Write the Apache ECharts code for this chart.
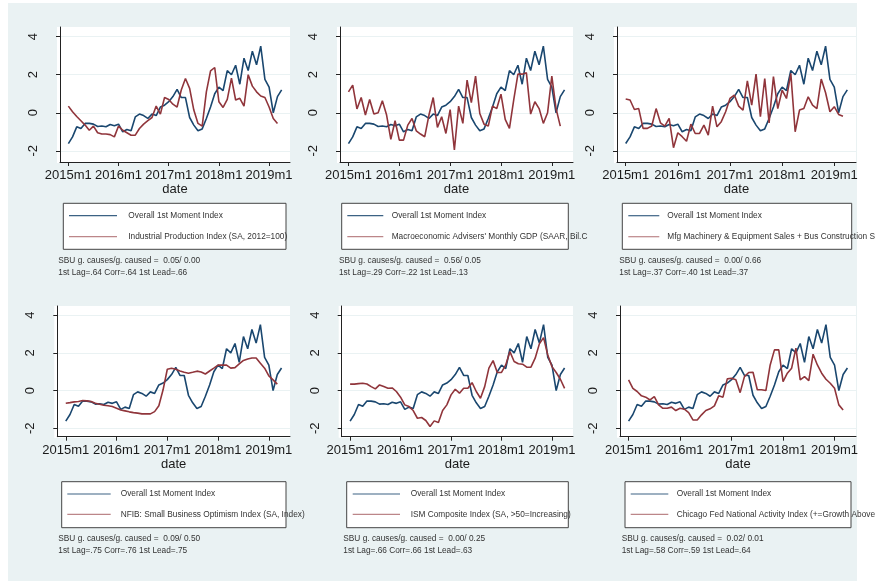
<!DOCTYPE html>
<html>
<head>
<meta charset="utf-8">
<script src="https://cdn.jsdelivr.net/npm/echarts@6/dist/echarts.min.js"></script>
<style>
  html, body { margin: 0; padding: 0; background: #ffffff; }
  #chart { width: 875px; height: 581px; }
</style>
</head>
<body>
<div id="chart"></div>
<script>
// Monthly observations, month 0 = 2015m1
const tickMonths = [0, 12, 24, 36, 48];
const tickLabels = ['2015m1', '2016m1', '2017m1', '2018m1', '2019m1'];
const yTicks = [-2, 0, 2, 4];

// Overall 1st Moment Index, 2015m1 - 2019m4
const overall = [
  -1.62, -1.27, -0.74, -0.83, -0.56, -0.56, -0.60, -0.72, -0.70, -0.74, -0.62, -0.68,
  -0.60, -1.00, -0.88, -0.95, -0.22, -0.07, -0.15, -0.30, -0.07, -0.15, 0.30, 0.40,
  0.58, 0.85, 1.23, 0.80, 0.80, -0.25, -0.65, -0.95, -0.85, -0.30, 0.30, 1.00,
  1.35, 1.17, 2.22, 2.00, 2.50, 1.50, 2.87, 2.22, 3.24, 2.52, 3.50, 1.76,
  1.35, 0.00, 0.85, 1.20
];

// Industrial Production Index (SA, 2012=100), 2015m1 - 2019m3
const industrialProduction = [
  0.35, 0.05, -0.20, -0.42, -0.65, -0.92, -0.70, -1.05, -1.12, -1.12, -1.15, -1.27,
  -0.70, -0.92, -1.05, -1.18, -1.18, -0.83, -0.60, -0.42, -0.25, 0.35, -0.07, 0.80,
  0.70, 0.45, 0.30, 1.20, 1.80, 1.28, 0.14, -0.56, -0.70, 1.10, 2.20, 2.38,
  0.58, 0.28, 0.70, 1.82, 0.67, 0.76, 0.35, 2.00, 1.40, 1.10, 0.88, 0.80,
  0.30, -0.30, -0.56
];

// Macroeconomic Advisers' Monthly GDP, 2015m1 - 2019m3
const macroGdp = [
  1.10, 1.45, 0.20, 0.80, -0.12, 0.70, -0.07, 0.00, 0.63, -0.12, -1.40, -0.42,
  -1.44, -1.44, -0.65, -0.30, -0.95, -1.12, -1.26, -0.12, 0.80, -0.77, -0.21, -1.09,
  0.17, -1.96, 0.35, -0.56, 1.72, 0.53, 1.93, -0.04, -0.60, -0.70, 0.35, 0.22,
  0.98, -0.35, -0.82, 0.67, 2.03, 2.03, 2.10, -0.07, 0.58, 0.22, -0.56, 0.00,
  1.93, 0.22, -0.70
];

// Mfg Machinery & Equipment Sales + Bus Construction, 2015m1 - 2019m3
const mfgMachinery = [
  0.72, 0.67, 0.17, 0.22, -0.82, -0.82, -0.70, 0.22, -0.53, -0.70, -0.30, -1.84,
  -1.05, -1.26, -1.50, -0.60, -1.09, -1.09, -0.65, -1.18, 0.35, -0.74, -0.47, 0.05,
  0.75, 0.93, 0.35, 0.14, 1.68, 0.40, 2.03, -0.21, 1.80, -0.53, 1.90, 0.22,
  1.19, 0.75, 2.07, -1.00, 0.14, 0.22, 0.84, 0.40, 0.22, 1.77, 1.05, 0.05,
  0.32, -0.09, -0.18
];

// NFIB: Small Business Optimism Index, 2015m1 - 2019m3
const nfib = [
  -0.67, -0.64, -0.60, -0.58, -0.53, -0.55, -0.58, -0.67, -0.73, -0.78, -0.81, -0.85,
  -0.94, -1.03, -1.08, -1.13, -1.17, -1.20, -1.24, -1.24, -1.24, -1.12, -0.81, 0.04,
  1.13, 1.19, 1.13, 1.04, 0.97, 0.92, 0.97, 1.03, 0.99, 0.88, 1.04, 1.19,
  1.35, 1.36, 1.35, 1.19, 1.22, 1.42, 1.60, 1.68, 1.73, 1.73, 1.45, 1.19,
  0.78, 0.57, 0.34
];

// ISM Composite Index, 2015m1 - 2019m4
const ism = [
  0.34, 0.34, 0.37, 0.39, 0.35, 0.21, 0.09, 0.30, 0.21, 0.12, 0.14, -0.05,
  -0.35, -0.76, -0.85, -1.06, -1.47, -1.43, -1.59, -1.91, -1.61, -1.70, -1.06, -0.76,
  -0.23, 0.07, -0.14, 0.12, 0.12, 0.42, -0.05, -0.41, 0.21, 1.19, 1.59, 0.96,
  0.96, 1.36, 2.07, 1.54, 1.42, 1.40, 1.24, 1.24, 1.72, 2.48, 2.81, 1.89,
  1.27, 0.96, 0.60, 0.12
];

// Chicago Fed National Activity Index, 2015m1 - 2019m3
const chicagoFed = [
  0.57, 0.12, -0.05, -0.28, -0.35, -0.50, -0.32, -0.76, -0.94, -0.94, -0.88, -1.06,
  -0.94, -0.99, -1.17, -1.56, -1.56, -1.29, -1.06, -0.97, -0.81, -0.28, -0.35, 0.62,
  0.65, 0.57, -0.11, 0.74, 0.96, 0.97, 0.04, 0.04, 0.00, 1.36, 2.16, 2.16,
  0.48, 0.92, 1.19, 2.25, 0.57, 0.74, 0.53, 1.93, 1.36, 0.92, 0.60, 0.39,
  0.12, -0.76, -1.03
];

const overallName = 'Overall 1st Moment Index';
const indicatorNames = [
  'Industrial Production Index (SA, 2012=100)',
  "Macroeconomic Advisers' Monthly GDP (SAAR, Bil.C",
  'Mfg Machinery & Equipment Sales + Bus Construction S',
  'NFIB: Small Business Optimism Index (SA, Index)',
  'ISM Composite Index (SA, >50=Increasing)',
  'Chicago Fed National Activity Index (+=Growth Above'
];
const grangerTexts = [
  'SBU g. causes/g. caused =  0.05/ 0.00',
  'SBU g. causes/g. caused =  0.56/ 0.05',
  'SBU g. causes/g. caused =  0.00/ 0.66',
  'SBU g. causes/g. caused =  0.09/ 0.50',
  'SBU g. causes/g. caused =  0.00/ 0.25',
  'SBU g. causes/g. caused =  0.02/ 0.01'
];
const corrTexts = [
  '1st Lag=.64 Corr=.64 1st Lead=.66',
  '1st Lag=.29 Corr=.22 1st Lead=.13',
  '1st Lag=.37 Corr=.40 1st Lead=.37',
  '1st Lag=.75 Corr=.76 1st Lead=.75',
  '1st Lag=.66 Corr=.66 1st Lead=.63',
  '1st Lag=.58 Corr=.59 1st Lead=.64'
];
const indicatorSeries = [industrialProduction, macroGdp, mfgMachinery, nfib, ism, chicagoFed];

// ---- page layout (pixels) ----
const FONT = '"Liberation Sans", Arial, Helvetica, sans-serif';
const BLUE = '#1a476f';
const RED = '#90353b';
const BG = '#eaf2f3';

const rows = [
  { top: 27, axisY: 162, yMin: -2.59, yMax: 4.51, boxTop: 203.3, boxBottom: 249.3, key1: 215.7, key2: 236.7, note1: 260.7, note2: 272.3 },
  { top: 306, axisY: 436.7, yMin: -2.45, yMax: 4.49, boxTop: 481.7, boxBottom: 527.7, key1: 494, key2: 514.3, note1: 539, note2: 551 }
];
const panelBoxes = [
  { row: 0, axisX: 60,    right: 290, boxL: 63.3,  boxR: 286,   keyL: 69,    keyR: 117,   textX: 128.3, noteX: 58.3 },
  { row: 0, axisX: 340,   right: 573, boxL: 341.7, boxR: 568.3, keyL: 347.3, keyR: 383.3, textX: 391.7, noteX: 339 },
  { row: 0, axisX: 617,   right: 856, boxL: 622.3, boxR: 851.7, keyL: 628.3, keyR: 659.3, textX: 667.3, noteX: 619.3 },
  { row: 1, axisX: 57.3,  right: 290, boxL: 61.7,  boxR: 286,   keyL: 67.3,  keyR: 110.7, textX: 120.7, noteX: 58.3 },
  { row: 1, axisX: 341.7, right: 573, boxL: 346.7, boxR: 568.3, keyL: 352.7, keyR: 400,   textX: 410.7, noteX: 343.3 },
  { row: 1, axisX: 620,   right: 856, boxL: 625,   boxR: 851,   keyL: 630.7, keyR: 668.3, textX: 676.7, noteX: 621.7 }
];

const grids = [], xAxes = [], yAxes = [], series = [];
const graphics = [
  { type: 'rect', z: -100, shape: { x: 8, y: 3, width: 849, height: 578 }, style: { fill: BG } }
];

panelBoxes.forEach((p, i) => {
  const r = rows[p.row];
  grids.push({ left: p.axisX, top: r.top, width: p.right - p.axisX, height: r.axisY - r.top, containLabel: false });

  // white plot region
  graphics.push({ type: 'rect', z: -90, shape: { x: p.axisX - 3, y: r.top, width: p.right - p.axisX + 3, height: r.axisY - r.top + 1 }, style: { fill: '#ffffff' } });

  xAxes.push({
    gridIndex: i, type: 'value', min: -2, max: 53,
    axisLine: { show: true, onZero: false, lineStyle: { color: '#222', width: 1 } },
    axisTick: { show: true, length: 4, customValues: tickMonths, lineStyle: { color: '#222' } },
    axisLabel: {
      customValues: tickMonths, margin: 7, fontSize: 13, fontFamily: FONT, color: '#1a1a1a',
      formatter: v => tickLabels[tickMonths.indexOf(v)] || ''
    },
    splitLine: { show: false },
    name: 'date', nameLocation: 'middle', nameGap: 21,
    nameTextStyle: { fontSize: 13, fontFamily: FONT, color: '#1a1a1a' }
  });
  yAxes.push({
    gridIndex: i, type: 'value', min: r.yMin, max: r.yMax,
    axisLine: { show: true, onZero: false, lineStyle: { color: '#222', width: 1 } },
    axisTick: { show: true, length: 4, customValues: yTicks, lineStyle: { color: '#222' } },
    axisLabel: { customValues: yTicks, rotate: 90, margin: 20, fontSize: 13, fontFamily: FONT, color: '#1a1a1a' },
    splitLine: { show: true, lineStyle: { color: BG, width: 1 } }
  });

  series.push({
    type: 'line', xAxisIndex: i, yAxisIndex: i, name: overallName,
    data: overall.map((v, k) => [k, v]),
    showSymbol: false, symbol: 'none', lineStyle: { color: BLUE, width: 1.6 }, itemStyle: { color: BLUE },
    z: 3, animation: false
  });
  series.push({
    type: 'line', xAxisIndex: i, yAxisIndex: i, name: indicatorNames[i],
    data: indicatorSeries[i].map((v, k) => [k, v]),
    showSymbol: false, symbol: 'none', lineStyle: { color: RED, width: 1.6 }, itemStyle: { color: RED },
    z: 4, animation: false
  });

  // legend box
  graphics.push({ type: 'rect', z: 20, shape: { x: p.boxL, y: r.boxTop, width: p.boxR - p.boxL, height: r.boxBottom - r.boxTop },
    style: { fill: '#ffffff', stroke: '#444', lineWidth: 1 } });
  graphics.push({ type: 'line', z: 21, shape: { x1: p.keyL, y1: r.key1, x2: p.keyR, y2: r.key1 }, style: { stroke: BLUE, lineWidth: 1.2, opacity: 0.85 } });
  graphics.push({ type: 'line', z: 21, shape: { x1: p.keyL, y1: r.key2, x2: p.keyR, y2: r.key2 }, style: { stroke: RED, lineWidth: 1.2, opacity: 0.6 } });
  graphics.push({ type: 'text', z: 22, x: p.textX, y: r.key1, style: { text: overallName, font: '8.3px ' + FONT, fill: '#333', textVerticalAlign: 'middle' } });
  graphics.push({ type: 'text', z: 22, x: p.textX, y: r.key2, style: { text: indicatorNames[i], font: '8.3px ' + FONT, fill: '#333', textVerticalAlign: 'middle' } });
  // notes under legend
  graphics.push({ type: 'text', z: 22, x: p.noteX, y: r.note1, style: { text: grangerTexts[i], font: '8.3px ' + FONT, fill: '#333', textVerticalAlign: 'middle' } });
  graphics.push({ type: 'text', z: 22, x: p.noteX, y: r.note2, style: { text: corrTexts[i], font: '8.3px ' + FONT, fill: '#333', textVerticalAlign: 'middle' } });
});

const chart = echarts.init(document.getElementById('chart'), null, { renderer: 'canvas', width: 875, height: 581 });
chart.setOption({
  animation: false,
  backgroundColor: '#ffffff',
  grid: grids,
  xAxis: xAxes,
  yAxis: yAxes,
  series: series,
  graphic: { elements: graphics }
});
</script>
</body>
</html>
